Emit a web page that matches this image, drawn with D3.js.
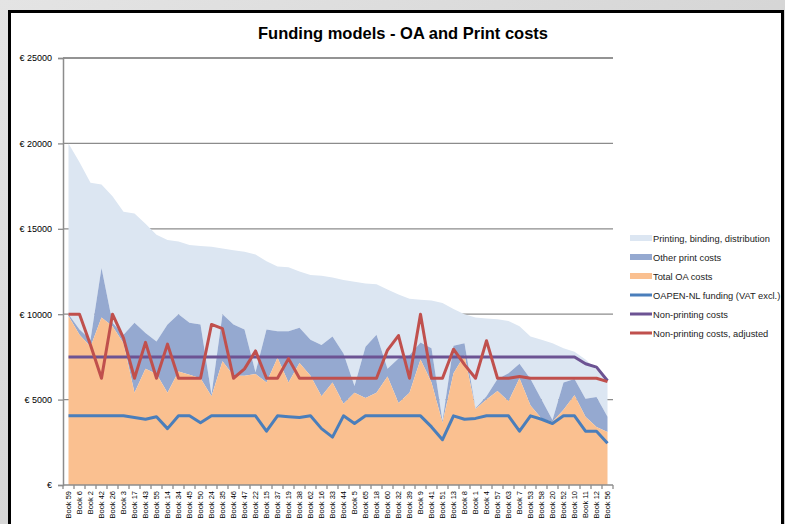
<!DOCTYPE html>
<html>
<head>
<meta charset="utf-8">
<script src="https://cdn.jsdelivr.net/npm/d3@7"></script>
<style>
  html, body { margin: 0; padding: 0; background: #d6d6d6; }
  svg { display: block; font-family: "Liberation Sans", Arial, sans-serif; }
</style>
</head>
<body>
<div id="chart"></div>
<script>
// Categories (x axis)
const books = ["Book 59","Book 6","Book 2","Book 42","Book 26","Book 3","Book 17","Book 43","Book 55","Book 14",
  "Book 34","Book 45","Book 50","Book 24","Book 35","Book 46","Book 47","Book 22","Book 15","Book 37",
  "Book 19","Book 38","Book 62","Book 16","Book 33","Book 44","Book 5","Book 65","Book 18","Book 60",
  "Book 32","Book 39","Book 9","Book 41","Book 51","Book 13","Book 8","Book 1","Book 4","Book 57",
  "Book 63","Book 7","Book 53","Book 58","Book 20","Book 52","Book 10","Book 11","Book 12","Book 56"];

// Stacked area series
const oaCosts = [9900,8800,8100,9800,9300,8300,5400,6800,6500,5400,
  6650,6450,6250,5200,7250,6400,6400,6500,6000,7450,
  6000,7150,6400,5200,6000,4750,5400,5100,5400,6350,
  4800,5400,7350,6000,3650,6550,7600,4450,5000,5500,
  4900,6250,4650,3900,3700,4400,5250,4000,3400,3100];
const otherPrint = [100,300,400,2900,200,500,4100,2100,1900,4000,
  3350,3050,3150,100,2750,3000,2700,100,3100,1550,
  3000,2050,2100,3000,2700,2950,400,3000,3400,450,
  2600,2200,1000,2000,100,1600,700,50,200,700,
  1650,850,1550,1100,100,1600,950,1050,1750,900];
const printing = [10000,9800,9200,4900,7400,7200,6400,6400,6250,4950,
  4250,4550,4600,8650,3850,4350,4550,6900,4000,3800,
  3750,3300,3800,4050,3450,4300,6100,3700,2950,4650,
  3750,3300,2500,2800,6900,2150,1700,5300,4550,3500,
  3050,2200,2500,3500,4500,2000,1600,2300,1600,2000];

// Line series
const oapenFunding = [4050,4050,4050,4050,4050,4050,3950,3850,4000,3300,
  4050,4050,3650,4050,4050,4050,4050,4050,3150,4050,
  4000,3950,4050,3300,2800,4050,3600,4050,4050,4050,
  4050,4050,4050,3400,2650,4050,3850,3900,4050,4050,
  4050,3150,4050,3850,3600,4050,4050,3150,3150,2450];
const nonPrinting = [7500,7500,7500,7500,7500,7500,7500,7500,7500,7500,
  7500,7500,7500,7500,7500,7500,7500,7500,7500,7500,
  7500,7500,7500,7500,7500,7500,7500,7500,7500,7500,
  7500,7500,7500,7500,7500,7500,7500,7500,7500,7500,
  7500,7500,7500,7500,7500,7500,7500,7100,6900,6100];
const nonPrintingAdj = [10000,10000,8200,6250,10000,8600,6250,8350,6250,8250,
  6250,6250,6250,9400,9150,6250,6800,7850,6250,6250,
  7400,6250,6250,6250,6250,6250,6250,6250,6250,7900,
  8750,6250,10000,6250,6250,7950,7050,6250,8450,6250,
  6250,6350,6250,6250,6250,6250,6250,6250,6250,6050];

const yTicks = [0, 5000, 10000, 15000, 20000, 25000];

const W = 785, H = 524;
const margin = { top: 58, left: 63 },
    width = 550,
    height = 427;

const svg = d3.select("#chart").append("svg")
    .attr("width", W)
    .attr("height", H);

// fond gris + cadre du graphique
const bg = svg.append("defs").append("linearGradient")
    .attr("id", "bg").attr("x1", 0).attr("y1", 0).attr("x2", 1).attr("y2", 1);
bg.append("stop").attr("offset", "0%").attr("stop-color", "#e4e4e4");
bg.append("stop").attr("offset", "100%").attr("stop-color", "#c8c8c8");
svg.append("rect").attr("width", W).attr("height", H).attr("fill", "url(#bg)");
svg.append("rect")
    .attr("x", 9.5).attr("y", 11.5)
    .attr("width", 773).attr("height", 530)
    .attr("fill", "#fff")
    .attr("stroke", "#000")
    .attr("stroke-width", 3);

svg.append("text")
    .attr("x", 403).attr("y", 39)
    .attr("text-anchor", "middle")
    .style("font-size", "16.5px")
    .style("font-weight", "bold")
    .text("Funding models - OA and Print costs");

const g = svg.append("g")
    .attr("transform", `translate(${margin.left},${margin.top})`);

const x = d3.scaleBand().domain(books).range([0, width]);
const y = d3.scaleLinear().domain([0, 25000]).range([height, 0]);
const cx = d => x(d) + x.bandwidth() / 2;

// lignes de grille
g.append("g").selectAll("line")
    .data(yTicks.filter(d => d > 0))
    .enter().append("line")
    .attr("x1", 0).attr("x2", width)
    .attr("y1", d => y(d)).attr("y2", d => y(d))
    .attr("stroke", "#8c8c8c")
    .attr("stroke-width", 1.3);

// aires empilées
const rows = books.map((b, i) => ({ book: b, oa: oaCosts[i], other: otherPrint[i], printing: printing[i] }));
const stack = d3.stack().keys(["oa", "other", "printing"]);
const layers = stack(rows);
const areaColors = { oa: "#fac090", other: "#95a9d0", printing: "#dce6f2" };

const area = d3.area()
    .x(d => cx(d.data.book))
    .y0(d => y(d[0]))
    .y1(d => y(d[1]));

g.selectAll(".layer")
    .data(layers.slice().reverse())
    .enter().append("path")
    .attr("class", "layer")
    .attr("fill", d => areaColors[d.key])
    .attr("d", area);

// grille 25000 au dessus
g.append("line")
    .attr("x1", 0).attr("x2", width)
    .attr("y1", y(25000)).attr("y2", y(25000))
    .attr("stroke", "#8c8c8c").attr("stroke-width", 1.3);

// lignes
const lineSeries = [
    { values: oapenFunding, color: "#4a7ebb" },
    { values: nonPrinting, color: "#6c5393" },
    { values: nonPrintingAdj, color: "#c0504d" }
];
const line = d3.line()
    .x((d, i) => cx(books[i]))
    .y(d => y(d));

lineSeries.forEach(s => {
    g.append("path")
        .datum(s.values)
        .attr("fill", "none")
        .attr("stroke", s.color)
        .attr("stroke-width", 3)
        .attr("stroke-linejoin", "round")
        .attr("d", line);
});

// axe Y
const yAxis = g.append("g")
    .call(d3.axisLeft(y).tickValues(yTicks).tickSize(5).tickPadding(6)
        .tickFormat(d => d ? "€ " + d : "€"));
yAxis.select(".domain").attr("stroke", "#8c8c8c").attr("stroke-width", 1.5);
yAxis.selectAll(".tick line").attr("stroke", "#8c8c8c").attr("stroke-width", 1.3);
yAxis.selectAll("text").style("font-size", "9px").attr("fill", "#000");

// axe X
const xAxis = g.append("g")
    .attr("transform", `translate(0,${height})`);
xAxis.append("line")
    .attr("x1", 0).attr("x2", width)
    .attr("stroke", "#8c8c8c").attr("stroke-width", 1.5);
xAxis.selectAll(".xtick")
    .data(books.concat(["end"]))
    .enter().append("line")
    .attr("class", "xtick")
    .attr("x1", (d, i) => i * x.bandwidth())
    .attr("x2", (d, i) => i * x.bandwidth())
    .attr("y1", 0).attr("y2", 4)
    .attr("stroke", "#8c8c8c").attr("stroke-width", 1.3);
xAxis.selectAll(".xlabel")
    .data(books)
    .enter().append("text")
    .attr("class", "xlabel")
    .attr("transform", d => `translate(${cx(d) + 2.5},6) rotate(-90)`)
    .attr("text-anchor", "end")
    .style("font-size", "7.5px")
    .text(d => d);

// légende
const legendItems = [
    { label: "Printing, binding, distribution", color: "#dce6f2", type: "area" },
    { label: "Other print costs", color: "#95a9d0", type: "area" },
    { label: "Total OA costs", color: "#fac090", type: "area" },
    { label: "OAPEN-NL funding (VAT excl.)", color: "#4a7ebb", type: "line" },
    { label: "Non-printing costs", color: "#6c5393", type: "line" },
    { label: "Non-printing costs, adjusted", color: "#c0504d", type: "line" }
];
const legend = svg.selectAll(".legend")
    .data(legendItems)
    .enter().append("g")
    .attr("class", "legend")
    .attr("transform", (d, i) => `translate(630,${238 + i * 19})`);
legend.append("rect")
    .attr("x", 0).attr("width", 22)
    .attr("y", d => d.type === "area" ? -3 : -1.5)
    .attr("height", d => d.type === "area" ? 6 : 3)
    .attr("fill", d => d.color);
legend.append("text")
    .attr("x", 23).attr("y", 3.5)
    .style("font-size", "9.3px")
    .attr("fill", "#222")
    .text(d => d.label);
</script>
</body>
</html>
